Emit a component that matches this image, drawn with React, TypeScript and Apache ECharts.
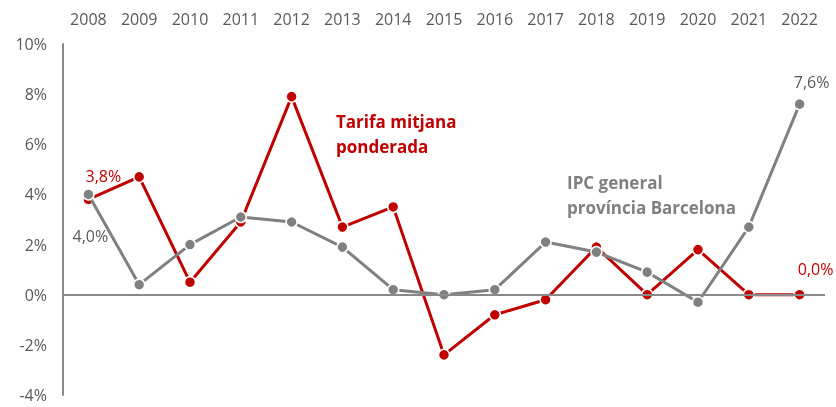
import React, { useEffect, useRef } from "react";
import * as echarts from "echarts";

const years = ["2008","2009","2010","2011","2012","2013","2014","2015","2016","2017","2018","2019","2020","2021","2022"];
const tarifa = [3.8, 4.7, 0.5, 2.9, 7.9, 2.7, 3.5, -2.4, -0.8, -0.2, 1.9, 0.0, 1.8, 0.0, 0.0];
const ipc = [4.0, 0.4, 2.0, 3.1, 2.9, 1.9, 0.2, 0.0, 0.2, 2.1, 1.7, 0.9, -0.3, 2.7, 7.6];
const yTicks = { min: -4, max: 10, interval: 2 };

const RED = "#C00000";
const GREY = "#808080";
const TEXT = "#595959";
const FONT = "Open Sans";

const fmt = (v: number) => v.toFixed(1).replace(".", ",") + "%";

export default function App() {
  const ref = useRef<HTMLDivElement>(null);
  useEffect(() => {
    const chart = echarts.init(ref.current!, null, { renderer: "svg" });
    const redData = tarifa.map((v, i) => {
      if (i === 0) return { value: v, label: { show: true, position: "top", offset: [15, -4], color: RED } };
      if (i === years.length - 1) return { value: v, label: { show: true, position: "top", offset: [16, -6], color: RED } };
      return v;
    });
    const greyData = ipc.map((v, i) => {
      if (i === 0) return { value: v, label: { show: true, position: "bottom", offset: [2, 22], color: TEXT } };
      if (i === years.length - 1) return { value: v, label: { show: true, position: "top", offset: [12, -3], color: TEXT } };
      return v;
    });
    chart.setOption({
      animation: false,
      grid: { left: 63, right: 11, top: 44, height: 351, containLabel: false },
      xAxis: {
        type: "category",
        data: years,
        position: "top",
        boundaryGap: true,
        axisLine: { show: false, onZero: false },
        axisTick: { show: false },
        axisLabel: { color: TEXT, fontSize: 16, fontFamily: FONT, margin: 17 },
        splitLine: { show: false },
      },
      yAxis: {
        type: "value",
        min: yTicks.min,
        max: yTicks.max,
        interval: yTicks.interval,
        axisLine: { show: true, lineStyle: { color: "#898989", width: 2 } },
        axisTick: { show: false },
        splitLine: { show: false },
        axisLabel: { color: TEXT, fontSize: 16, fontFamily: FONT, margin: 16, formatter: (v: number) => v + "%" },
      },
      series: [
        {
          name: "Tarifa mitjana ponderada",
          type: "line",
          data: redData,
          symbol: "circle",
          symbolSize: 11,
          lineStyle: { color: RED, width: 3 },
          itemStyle: { color: RED, borderColor: "#ffffff", borderWidth: 1.5 },
          label: { show: false, fontSize: 16, fontFamily: FONT, formatter: (p: any) => fmt(p.value) },
          markLine: {
            silent: true,
            symbol: "none",
            label: { show: false },
            lineStyle: { color: "#898989", width: 2, type: "solid" },
            data: [{ yAxis: 0 }],
          },
          z: 2,
        },
        {
          name: "IPC general província Barcelona",
          type: "line",
          data: greyData,
          symbol: "circle",
          symbolSize: 11,
          lineStyle: { color: GREY, width: 3 },
          itemStyle: { color: GREY, borderColor: "#ffffff", borderWidth: 1.5 },
          label: { show: false, fontSize: 16, fontFamily: FONT, formatter: (p: any) => fmt(p.value) },
          z: 3,
        },
      ],
      graphic: [
        {
          type: "text",
          left: 336,
          top: 109,
          style: { text: "Tarifa mitjana\nponderada", fill: RED, font: `bold 17px "${FONT}"`, lineHeight: 25 },
        },
        {
          type: "text",
          left: 567,
          top: 170,
          style: { text: "IPC general\nprovíncia Barcelona", fill: GREY, font: `bold 17px "${FONT}"`, lineHeight: 25 },
        },
      ],
    });
    return () => chart.dispose();
  }, []);
  return <div ref={ref} style={{ position: "fixed", left: 0, top: 0, width: 836, height: 407 }} />;
}
